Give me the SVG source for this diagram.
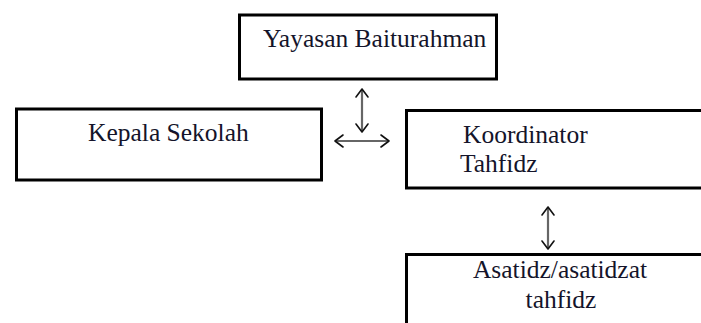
<svg xmlns="http://www.w3.org/2000/svg" width="701" height="323" viewBox="0 0 701 323">
<style>
.box{fill:#fff;stroke:#000;stroke-width:3}
.t{font-size:25.5px;fill:#14142a}
.ar{stroke:#666;stroke-width:2.2;fill:none}
.hd{stroke:#111;stroke-width:1.6;fill:none;stroke-linecap:round;stroke-linejoin:round}
</style>
<rect width="701" height="323" fill="#fff"/>
<g id="yayasan">
<rect class="box" x="239.5" y="15" width="257" height="64"/>
<text class="t" font-family="Liberation Serif, serif" x="263" y="47">Yayasan Baiturahman</text>
</g>
<g id="kepala">
<rect class="box" x="16.5" y="109" width="305" height="71"/>
<text class="t" font-family="Liberation Serif, serif" x="88" y="141">Kepala Sekolah</text>
</g>
<g id="koordinator">
<rect class="box" x="406.5" y="110.5" width="320" height="77.5"/>
<text class="t" font-family="Liberation Serif, serif" x="463" y="143">Koordinator</text>
<text class="t" font-family="Liberation Serif, serif" x="460" y="172">Tahfidz</text>
</g>
<g id="asatidz">
<rect class="box" x="406.5" y="254.5" width="320" height="100"/>
<text class="t" font-family="Liberation Serif, serif" x="560" y="278" text-anchor="middle">Asatidz/asatidzat</text>
<text class="t" font-family="Liberation Serif, serif" x="561" y="308" text-anchor="middle">tahfidz</text>
</g>
<g id="connectors">
<line class="ar" x1="362" y1="90" x2="362" y2="131"/>
<polyline class="hd" points="356,97 362,89 368,97"/>
<polyline class="hd" points="356,124 362,132 368,124"/>
<line class="ar" x1="336" y1="141" x2="388" y2="141"/>
<polyline class="hd" points="343,135 335,141 343,147"/>
<polyline class="hd" points="381,135 389,141 381,147"/>
<line class="ar" x1="548" y1="208" x2="548" y2="248"/>
<polyline class="hd" points="542,215 548,207 554,215"/>
<polyline class="hd" points="542,241 548,249 554,241"/>
</g>
</svg>
